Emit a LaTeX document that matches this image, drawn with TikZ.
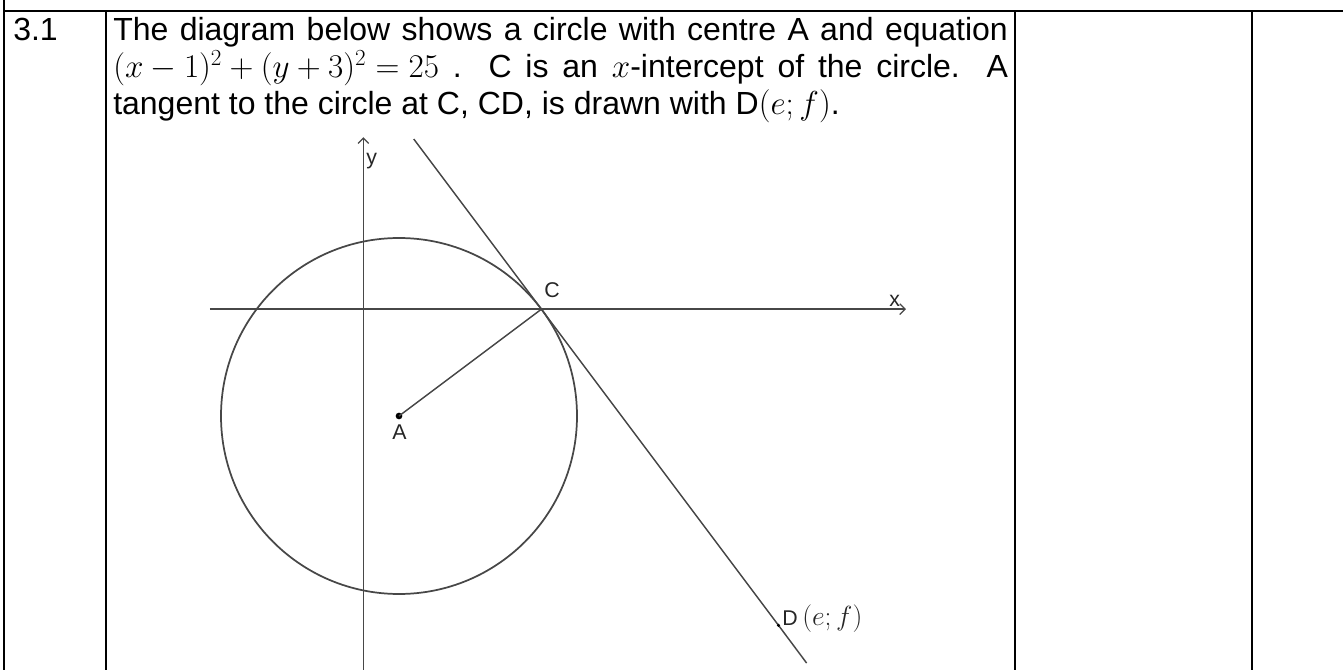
\documentclass[tikz,border=0pt]{standalone}
\usepackage{fontspec}
\setmainfont{Liberation Sans}
\usetikzlibrary{arrows.meta}
\begin{document}
\begin{tikzpicture}[x=0.75pt,y=-0.75pt,
  tbl/.style={line width=1.9pt, black},
  txt/.style={anchor=base west, inner sep=0pt, font=\fontsize{24}{28}\selectfont},
  lbl/.style={anchor=base west, inner sep=0pt, font=\fontsize{16}{18}\selectfont, text=black!85},
  geo/.style={line width=1.1pt, black!72},
  axis/.style={geo, -{Straight Barb[length=4pt,width=8pt,line width=0.9pt]}},
]
\useasboundingbox (0,0) rectangle (1343,670);
% table
\draw[tbl] (4,0) -- (4,670);
\draw[tbl] (4,11) -- (1343,11);
\draw[tbl] (106,11) -- (106,670);
\draw[tbl] (1015,11) -- (1015,670);
\draw[tbl] (1252,11) -- (1252,670);
% text
\node[txt] (num) at (13,41) {3.1};
\node[txt] (l1) at (113,41) {\makebox[671pt][s]{The diagram below shows a circle with centre A and equation}};
\node[txt] (l2) at (113,78) {\makebox[671pt][s]{\mbox{$(x-1)^2+(y+3)^2=25$} . C is an \mbox{$x$-intercept} of the circle. A}};
\node[txt] (l3) at (113,115) {tangent to the circle at C, CD, is drawn with $\mathrm{D}(e;f)$.};
% diagram
\begin{scope}[shift={(363.4,309.2)}, x=26.7pt, y=26.7pt]
  \coordinate (xl) at (-4.31,0);
  \coordinate (xr) at (15.24,0);
  \coordinate (yb) at (0,-10.2);
  \coordinate (yt) at (0,4.83);
  \coordinate (C) at (5,0);
  \coordinate (D) at (11.66,-8.88);
  \coordinate (ttop) at (1.415,4.78);
  \coordinate (tbot) at (12.45,-9.94);
  \draw[axis] (xl) -- (xr);
  \draw[axis] (yb) -- (yt);
  \draw[geo, line width=1.3pt] (1,-3) circle (5);
  \draw[geo] (ttop) -- (C) -- (D) -- (tbot);
  \node[circle, fill=black, inner sep=0pt, minimum size=5pt] (A) at (1,-3) {};
  \draw[geo] (A.center) -- (C);
  \fill[black] (D) circle (1.3pt);
\end{scope}
% labels
\node[lbl] (ly) at (366,165) {y};
\node[lbl] (lx) at (889,307) {x};
\node[lbl] (lC) at (544,298) {C};
\node[lbl] (lA) at (392,439) {A};
\node[lbl, font=\fontsize{21}{24}\selectfont] (lD) at (782,625) {{\fontsize{16}{18}\selectfont D}\,$(e;f)$};
\end{tikzpicture}
\end{document}
